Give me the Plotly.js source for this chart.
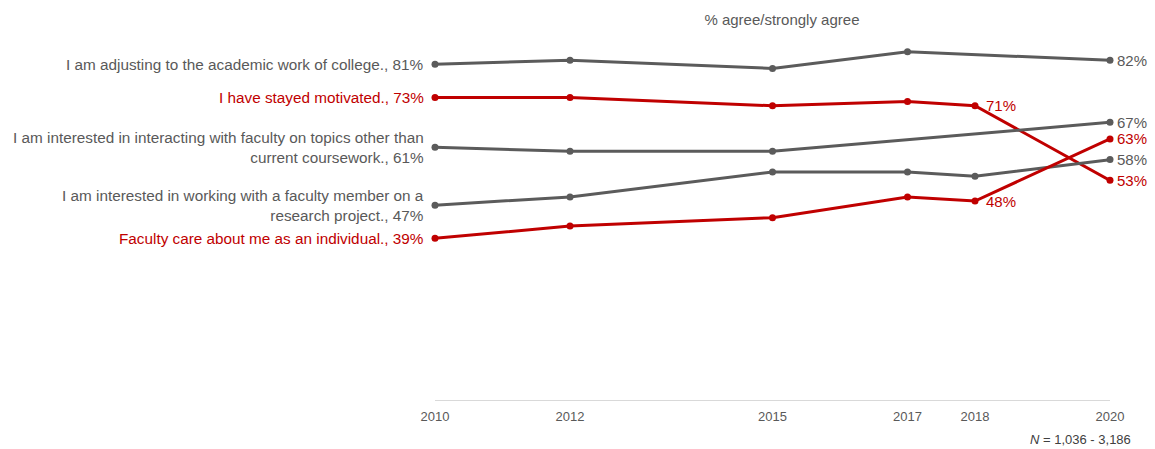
<!DOCTYPE html>
<html>
<head>
<meta charset="utf-8">
<script src="https://cdn.plot.ly/plotly-3.0.1.min.js"></script>
<style>html,body{margin:0;padding:0;background:#fff;}#chart{width:1155px;height:449px;}</style>
</head>
<body>
<div id="chart"></div>
<script>
var years = [2010, 2012, 2015, 2017, 2018, 2020];
var seriesNames = [
  "I am adjusting to the academic work of college.",
  "I have stayed motivated.",
  "I am interested in interacting with faculty on topics other than<br>current coursework.",
  "I am interested in working with a faculty member on a<br>research project.",
  "Faculty care about me as an individual."
];
var adjusting   = [81, 82, 80, 84, null, 82];
var motivated   = [73, 73, 71, 72, 71, 53];
var interacting = [61, 60, 60, null, null, 67];
var research    = [47, 49, 55, 55, 54, 58];
var facultyCare = [39, 42, 44, 49, 48, 63];
var allValues = [adjusting, motivated, interacting, research, facultyCare];
var seriesColors = ["#5b5b5b", "#c00000", "#5b5b5b", "#5b5b5b", "#c00000"];
var labelColors = ["#595959", "#c00000", "#595959", "#595959", "#c00000"];
var label2018 = [false, true, false, false, true];
var footnote = "<i>N</i> = 1,036 - 3,186";
var chartTitle = "% agree/strongly agree";

var FONT = "Liberation Sans, Arial, sans-serif";
var NARROW = "Liberation Sans Narrow, Arial Narrow, Liberation Sans, Arial, sans-serif";

var traces = allValues.map(function(v, i) {
  return {
    x: years, y: v, type: "scatter", mode: "lines+markers",
    connectgaps: true, cliponaxis: false,
    line: {color: seriesColors[i], width: 3},
    marker: {color: seriesColors[i], size: 7},
    hoverinfo: "skip", showlegend: false
  };
});

var annotations = [];
allValues.forEach(function(v, i) {
  annotations.push({
    x: years[0], y: v[0], xref: "x", yref: "y",
    text: seriesNames[i] + ", " + v[0] + "%",
    showarrow: false, xanchor: "right", yanchor: "middle", align: "right",
    xshift: -9,
    font: {family: FONT, size: 15.3, color: labelColors[i]}
  });
  var last = v.length - 1;
  annotations.push({
    x: years[last], y: v[last], xref: "x", yref: "y",
    text: v[last] + "%",
    showarrow: false, xanchor: "left", yanchor: "middle",
    xshift: 5,
    font: {family: FONT, size: 15, color: labelColors[i]}
  });
  if (label2018[i]) {
    var k = years.indexOf(2018);
    annotations.push({
      x: years[k], y: v[k], xref: "x", yref: "y",
      text: v[k] + "%",
      showarrow: false, xanchor: "left", yanchor: "middle",
      xshift: 9,
      font: {family: FONT, size: 15, color: labelColors[i]}
    });
  }
});
annotations.push({
  x: 1.034, y: -0.106, xref: "paper", yref: "paper",
  text: footnote, showarrow: false, xanchor: "right", yanchor: "middle",
  font: {family: NARROW, size: 13, color: "#404040"}
});

var layout = {
  width: 1155, height: 449,
  margin: {l: 435, r: 45, t: 27, b: 49},
  paper_bgcolor: "#fff", plot_bgcolor: "#fff",
  title: {
    text: chartTitle, x: 0.514, xref: "paper", xanchor: "center",
    y: 0.956, yref: "container", yanchor: "middle",
    font: {family: FONT, size: 15, color: "#595959"}
  },
  xaxis: {
    range: [2010, 2020], tickvals: years, ticktext: years.map(String),
    showgrid: false, zeroline: false, showline: true,
    linecolor: "#d9d9d9", linewidth: 1,
    ticks: "outside", ticklen: 4, tickcolor: "rgba(0,0,0,0)",
    tickfont: {family: NARROW, size: 13, color: "#595959"},
    fixedrange: true
  },
  yaxis: {
    range: [0, 90], visible: false, showgrid: false, zeroline: false, fixedrange: true
  },
  annotations: annotations,
  showlegend: false
};

Plotly.newPlot("chart", traces, layout, {displayModeBar: false, staticPlot: true});
</script>
</body>
</html>
